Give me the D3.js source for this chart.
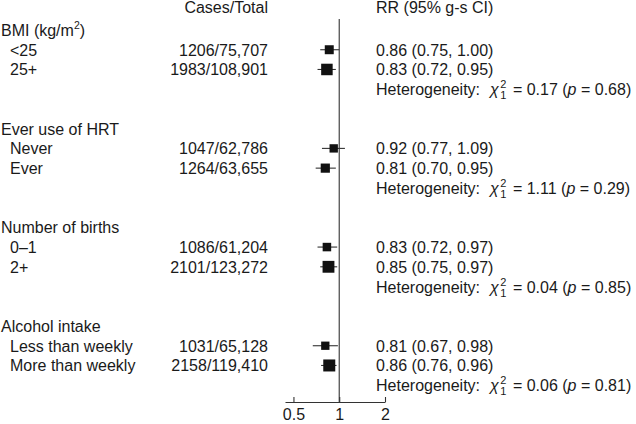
<!DOCTYPE html>
<html>
<head>
<meta charset="utf-8">
<script src="https://cdn.jsdelivr.net/npm/d3@7"></script>
<style>
  html, body { margin: 0; padding: 0; background: #fff; }
  svg text { font-family: "Liberation Sans", Arial, Helvetica, sans-serif; fill: #1a1a1a; }
</style>
</head>
<body>
<svg id="chart" width="636" height="424"></svg>
<script>
// ---- data ----
const groups = ["BMI (kg/m²)", "Ever use of HRT", "Number of births", "Alcohol intake"];
const subgroups = [
  ["<25", "25+"],
  ["Never", "Ever"],
  ["0\u20131", "2+"],
  ["Less than weekly", "More than weekly"]
];
const cases = [[1206, 1983], [1047, 1264], [1086, 2101], [1031, 2158]];
const totals = [["75,707", "108,901"], ["62,786", "63,655"], ["61,204", "123,272"], ["65,128", "119,410"]];
const rr = [[0.86, 0.83], [0.92, 0.81], [0.83, 0.85], [0.81, 0.86]];
const lower = [[0.75, 0.72], [0.77, 0.70], [0.72, 0.75], [0.67, 0.76]];
const upper = [[1.00, 0.95], [1.09, 0.95], [0.97, 0.97], [0.98, 0.96]];
const hetChi = ["0.17", "1.11", "0.04", "0.06"];
const hetP = ["0.68", "0.29", "0.85", "0.81"];
const axisTicks = [0.5, 1, 2];
const axisTickLabels = ["0.5", "1", "2"];

// ---- layout ----
const svg = d3.select("#chart");
const FS = 16;
const x = d3.scaleLog().domain([0.44, 2]).range([285, 385]);
const y = d3.scaleLinear().domain([0, 15]).range([36, 332]);
const size = d3.scaleSqrt().domain([0, 2158]).range([0, 12]);
const fmt = d3.format(".2f");

const xLabel = 1, xSub = 10, xCases = 268, xRR = 376;

// headers
svg.append("text").attr("x", xCases).attr("y", 13).attr("text-anchor", "end")
  .attr("font-size", FS).text("Cases/Total");
svg.append("text").attr("x", xRR).attr("y", 13)
  .attr("font-size", FS).text("RR (95% g-s CI)");

// reference line and axis
const axisY = 402;
svg.append("line").attr("x1", x(1)).attr("x2", x(1)).attr("y1", 19).attr("y2", axisY)
  .attr("stroke", "#333").attr("stroke-width", 1.1);

const axis = d3.axisBottom(x).tickValues(axisTicks)
  .tickFormat((d, i) => axisTickLabels[i]).tickSizeInner(-5).tickSizeOuter(0).tickPadding(7);
const ag = svg.append("g").attr("transform", `translate(0,${axisY})`).call(axis);
ag.select(".domain").attr("stroke", "#333").attr("stroke-width", 1.1);
ag.selectAll(".tick line").attr("stroke", "#333").attr("stroke-width", 1.1);
ag.selectAll(".tick text").attr("font-size", 16)
  .attr("font-family", "Liberation Sans, Arial, sans-serif").attr("fill", "#1a1a1a");

groups.forEach((g, gi) => {
  const base = gi * 5;
  // group header
  const gt = svg.append("text").attr("x", xLabel).attr("y", y(base)).attr("font-size", FS);
  if (gi === 0) {
    gt.append("tspan").text("BMI (kg/m");
    gt.append("tspan").attr("font-size", 10.5).attr("dy", -7).text("2");
    gt.append("tspan").attr("dy", 7).text(")");
  } else {
    gt.text(g);
  }

  subgroups[gi].forEach((s, si) => {
    const yy = y(base + 1 + si);
    svg.append("text").attr("x", xSub).attr("y", yy).attr("font-size", FS).text(s);
    svg.append("text").attr("x", xCases).attr("y", yy).attr("text-anchor", "end")
      .attr("font-size", FS).text(cases[gi][si] + "/" + totals[gi][si]);
    svg.append("text").attr("x", xRR).attr("y", yy).attr("font-size", FS)
      .text(`${fmt(rr[gi][si])} (${fmt(lower[gi][si])}, ${fmt(upper[gi][si])})`);
    const cy = yy - 6;
    svg.append("line").attr("x1", x(lower[gi][si])).attr("x2", x(upper[gi][si]))
      .attr("y1", cy).attr("y2", cy).attr("stroke", "#333").attr("stroke-width", 1.1);
    const sz = size(cases[gi][si]);
    svg.append("rect").attr("x", x(rr[gi][si]) - sz / 2).attr("y", cy - sz / 2)
      .attr("width", sz).attr("height", sz).attr("fill", "#111");
  });

  // heterogeneity
  const hy = y(base + 3);
  const ht = svg.append("text").attr("x", xRR).attr("y", hy).attr("font-size", FS);
  ht.append("tspan").text("Heterogeneity:");
  ht.append("tspan").attr("dx", 10).attr("font-style", "italic").text("\u03C7");
  ht.append("tspan").attr("font-size", 11).attr("dy", -7).attr("dx", 1.5).text("2");
  ht.append("tspan").attr("font-size", 11).attr("dy", 11).attr("dx", -6.1).text("1");
  ht.append("tspan").attr("dy", -4).attr("dx", 2).text(" = " + hetChi[gi] + " (");
  ht.append("tspan").attr("font-style", "italic").text("p");
  ht.append("tspan").text(" = " + hetP[gi] + ")");
});
</script>
</body>
</html>
